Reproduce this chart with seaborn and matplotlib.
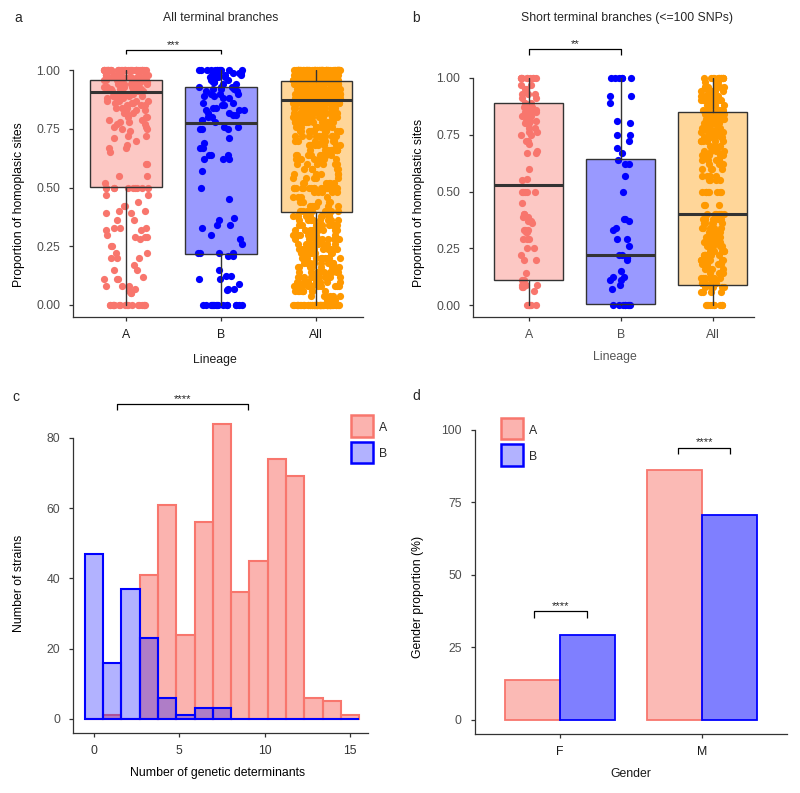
import numpy as np
import pandas as pd
import matplotlib
matplotlib.use("Agg")
import matplotlib.pyplot as plt
import seaborn as sns
from matplotlib.colors import to_rgba
from matplotlib.patches import Rectangle

# ------------------------------------------------------------------ data
lineages = ["A", "B", "All"]
col_A, col_B, col_All = "#F8766D", "#0000FF", "#FF9900"

# panel a : all terminal branches (proportion value, number of branches)
a_A_vals = [1.00, 0.98, 0.97, 0.96, 0.95, 0.94, 0.93, 0.92, 0.91, 0.90, 0.89, 0.88, 0.87, 0.86,
            0.85, 0.84, 0.83, 0.82, 0.80, 0.79, 0.78, 0.77, 0.76, 0.75, 0.74, 0.72, 0.71, 0.70,
            0.68, 0.67, 0.65, 0.60, 0.55, 0.52, 0.50, 0.47, 0.44, 0.42, 0.40, 0.39, 0.36, 0.33,
            0.32, 0.30, 0.29, 0.28, 0.25, 0.22, 0.20, 0.17, 0.15, 0.12, 0.11, 0.08, 0.07, 0.06,
            0.05, 0.00]
a_A_cnts = [35, 10, 10, 8, 8, 6, 6, 6, 5, 5, 4, 4, 4, 4, 3, 3, 3, 3, 3, 2, 2, 2, 2, 2, 1, 2, 1, 1,
            1, 2, 1, 2, 2, 1, 10, 2, 1, 2, 2, 2, 2, 3, 2, 1, 3, 1, 2, 2, 3, 1, 2, 1, 3, 3, 1, 1,
            2, 18]
a_B_vals = [1.00, 0.99, 0.98, 0.97, 0.96, 0.95, 0.94, 0.93, 0.92, 0.91, 0.90, 0.89, 0.88, 0.86,
            0.85, 0.84, 0.83, 0.82, 0.81, 0.80, 0.79, 0.78, 0.76, 0.75, 0.71, 0.69, 0.67, 0.64,
            0.62, 0.57, 0.50, 0.45, 0.37, 0.36, 0.34, 0.33, 0.30, 0.28, 0.26, 0.22, 0.21, 0.15,
            0.125, 0.11, 0.09, 0.07, 0.065, 0.00]
a_B_cnts = [12, 3, 4, 3, 3, 3, 2, 3, 3, 2, 3, 2, 2, 2, 2, 2, 3, 2, 2, 2, 1, 1, 2, 3, 1, 1, 2, 3,
            3, 1, 1, 1, 1, 1, 2, 1, 1, 1, 1, 4, 2, 1, 2, 2, 1, 2, 1, 16]
a_All_vals = [1.00, 0.98, 0.96, 0.94, 0.92, 0.90, 0.88, 0.86, 0.84, 0.82, 0.80, 0.78, 0.76, 0.74,
              0.72, 0.70, 0.68, 0.66, 0.64, 0.62, 0.60, 0.58, 0.56, 0.54, 0.52, 0.50, 0.48, 0.46,
              0.44, 0.42, 0.40, 0.38, 0.36, 0.34, 0.32, 0.30, 0.28, 0.26, 0.24, 0.22, 0.20, 0.18,
              0.16, 0.14, 0.12, 0.10, 0.08, 0.06, 0.04, 0.02, 0.00]
a_All_cnts = [60, 40, 40, 35, 30, 28, 25, 22, 18, 16, 15, 14, 12, 10, 10, 9, 8, 10, 8, 7, 6, 5,
              5, 5, 6, 20, 5, 4, 5, 6, 8, 10, 9, 10, 10, 9, 11, 9, 10, 11, 12, 8, 9, 10, 11, 12,
              10, 9, 6, 4, 50]
a_q1 = [0.504, 0.216, 0.395]
a_med = [0.908, 0.774, 0.873]
a_q3 = [0.959, 0.930, 0.954]
a_lo = [0.0, 0.0, 0.0]
a_hi = [1.0, 1.0, 1.0]

# panel b : short terminal branches (<=100 SNPs)
b_A_vals = [1.00, 0.97, 0.95, 0.93, 0.91, 0.89, 0.87, 0.86, 0.85, 0.83, 0.81, 0.80, 0.78, 0.76,
            0.75, 0.72, 0.71, 0.68, 0.67, 0.60, 0.555, 0.55, 0.50, 0.45, 0.40, 0.39, 0.37, 0.36,
            0.33, 0.32, 0.29, 0.25, 0.22, 0.20, 0.14, 0.11, 0.09, 0.08, 0.065, 0.00]
b_A_cnts = [10, 2, 2, 3, 2, 2, 3, 3, 3, 3, 3, 3, 2, 2, 2, 2, 1, 1, 2, 1, 1, 1, 5, 1, 2, 2, 2, 1,
            3, 2, 3, 2, 1, 2, 1, 2, 3, 2, 1, 7]
b_B_vals = [1.00, 0.92, 0.89, 0.81, 0.80, 0.75, 0.72, 0.69, 0.67, 0.64, 0.62, 0.57, 0.50, 0.38,
            0.37, 0.34, 0.33, 0.29, 0.26, 0.22, 0.21, 0.20, 0.15, 0.125, 0.11, 0.09, 0.07, 0.00]
b_B_cnts = [6, 2, 1, 1, 1, 2, 1, 1, 1, 1, 2, 1, 1, 2, 1, 1, 1, 2, 1, 2, 2, 1, 1, 2, 2, 1, 1, 8]
b_All_vals = [1.00, 0.98, 0.96, 0.94, 0.92, 0.90, 0.88, 0.86, 0.84, 0.82, 0.80, 0.78, 0.76, 0.74,
              0.72, 0.70, 0.68, 0.66, 0.64, 0.62, 0.60, 0.57, 0.55, 0.50, 0.44, 0.40, 0.38, 0.36,
              0.34, 0.32, 0.30, 0.28, 0.26, 0.24, 0.22, 0.20, 0.18, 0.16, 0.14, 0.12, 0.10, 0.08,
              0.06, 0.00]
b_All_cnts = [12, 3, 6, 6, 8, 8, 8, 8, 10, 10, 10, 8, 8, 6, 6, 4, 5, 6, 5, 4, 4, 4, 4, 8, 3, 6,
              6, 5, 5, 6, 5, 6, 5, 5, 8, 8, 5, 4, 5, 6, 6, 5, 4, 10]
b_q1 = [0.113, 0.004, 0.091]
b_med = [0.528, 0.220, 0.399]
b_q3 = [0.887, 0.645, 0.850]
b_lo = [0.0, 0.0, 0.0]
b_hi = [1.0, 1.0, 1.0]

# panel c : number of genetic determinants per strain
c_A_det = [1, 3, 4, 5, 6, 7, 9, 10, 11, 12, 13, 14, 15]
c_A_n = [1, 41, 61, 24, 56, 84, 36, 45, 74, 69, 6, 5, 1]
c_B_det = [0, 1, 2, 3, 4, 5, 6, 7]
c_B_n = [47, 16, 37, 23, 6, 1, 3, 3]

# panel d : gender proportion (%)
genders = ["F", "M"]
d_A_prop = [13.8, 86.2]
d_B_prop = [29.2, 70.8]

# ------------------------------------------------------------------ style
sns.set_style("ticks")
plt.rcParams["font.family"] = ["Liberation Sans", "DejaVu Sans"]
FS = 8.8
W, H = 800, 793
fig = plt.figure(figsize=(W / 100, H / 100), dpi=100)


def add_ax(l, t, r, b):
    return fig.add_axes([l / W, 1 - b / H, (r - l) / W, (b - t) / H])


def style(ax, xcol, ycol):
    for s in ["top", "right"]:
        ax.spines[s].set_visible(False)
    for s in ["left", "bottom"]:
        ax.spines[s].set_color("#333333")
        ax.spines[s].set_linewidth(0.9)
    ax.tick_params(axis="both", length=3, width=0.9, color="#333333", labelsize=FS)
    ax.tick_params(axis="x", labelcolor=xcol, pad=5.5)
    ax.tick_params(axis="y", labelcolor=ycol, pad=6.5)


def ftext(x, y, s, **kw):
    fig.text(x / W, 1 - y / H, s, **kw)


def bracket(ax, x0, x1, ytop, ybot, label):
    ax.plot([x0, x0, x1, x1], [ybot, ytop, ytop, ybot], color="black", lw=0.9,
            clip_on=False, solid_capstyle="butt")
    ax.annotate(label, ((x0 + x1) / 2, ytop), xytext=(0, 1.6), textcoords="offset points",
                ha="center", va="baseline", fontsize=8.2, annotation_clip=False)


def legend_key(x0, y0, labels, faces, edges):
    # manual legend: 22 px square keys, 26.5 px pitch (pixel coords)
    for i, (lab, fc, ec) in enumerate(zip(labels, faces, edges)):
        top = y0 + i * 26.5
        fig.add_artist(Rectangle((x0 / W, 1 - (top + 21.5) / H), 22 / W, 21.5 / H,
                                 transform=fig.transFigure, facecolor=fc, edgecolor=ec,
                                 lw=1.8))
        ftext(x0 + 28, top + 13, lab, fontsize=FS, ha="left", va="center")


def long_df(lab, vals, cnts):
    v = np.repeat(vals, cnts)
    return pd.DataFrame({"lineage": [lab] * len(v), "value": v})


pal = {"A": col_A, "B": col_B, "All": col_All}
np.random.seed(11)


def box_panel(ax, vals_list, cnts_list, jitters, q1, med, q3, lo, hi):
    for lab, vals, cnts, jit in zip(lineages, vals_list, cnts_list, jitters):
        sns.stripplot(data=long_df(lab, vals, cnts), x="lineage", y="value",
                      order=lineages, color=pal[lab], jitter=jit, size=5.2, linewidth=0,
                      ax=ax, zorder=2, clip_on=False)
    stats = [dict(med=m, q1=a, q3=b, whislo=l, whishi=h, label=n)
             for m, a, b, l, h, n in zip(med, q1, q3, lo, hi, lineages)]
    bp = ax.bxp(stats, positions=[0, 1, 2], widths=0.75, patch_artist=True,
                showfliers=False, showcaps=False, manage_ticks=False, zorder=3,
                medianprops=dict(color="#333333", lw=2.2, solid_capstyle="butt"),
                whiskerprops=dict(color="#333333", lw=1.0))
    for patch, c in zip(bp["boxes"], [col_A, col_B, col_All]):
        patch.set_facecolor(to_rgba(c, 0.4))
        patch.set_edgecolor("#333333")
        patch.set_linewidth(1.0)
    ax.set_xticks([0, 1, 2], lineages)
    ax.set_yticks([0, 0.25, 0.5, 0.75, 1.0], ["0.00", "0.25", "0.50", "0.75", "1.00"])
    ax.set_ylim(-0.05, 1.0)


# ------------------------------------------------------------------ panel a
axA = add_ax(73.3, 70.3, 363, 316.7)
box_panel(axA, [a_A_vals, a_B_vals, a_All_vals], [a_A_cnts, a_B_cnts, a_All_cnts],
          [0.24, 0.24, 0.25], a_q1, a_med, a_q3, a_lo, a_hi)
axA.set_xlim(-0.553, 2.49)
style(axA, "#1A1A1A", "#4D4D4D")
axA.set_xlabel("Lineage", fontsize=FS, color="#1A1A1A")
axA.set_ylabel("Proportion of homoplasic sites", fontsize=FS, color="black")
axA.xaxis.set_label_coords(0.489, -0.176)
axA.yaxis.set_label_coords(-0.186, 0.453)
axA.xaxis.label.set_va("center")
axA.yaxis.label.set_va("center")
bracket(axA, 0, 1, 1.087, 1.068, "***")

# ------------------------------------------------------------------ panel b
axB = add_ax(473.3, 77.7, 754, 316.7)
box_panel(axB, [b_A_vals, b_B_vals, b_All_vals], [b_A_cnts, b_B_cnts, b_All_cnts],
          [0.09, 0.12, 0.13], b_q1, b_med, b_q3, b_lo, b_hi)
axB.set_xlim(-0.605, 2.45)
style(axB, "#4D4D4D", "#4D4D4D")
axB.set_xlabel("Lineage", fontsize=FS, color="#555555")
axB.set_ylabel("Proportion of homoplastic sites", fontsize=FS, color="black")
axB.xaxis.set_label_coords(0.505, -0.169)
axB.yaxis.set_label_coords(-0.193, 0.478)
axB.xaxis.label.set_va("center")
axB.yaxis.label.set_va("center")
bracket(axB, 0, 1, 1.125, 1.10, "**")

# ------------------------------------------------------------------ panel c
axC = add_ax(73.3, 437.7, 368.3, 733.3)
edges = list(np.linspace(-15 / 28, 15 + 15 / 28, 16))
sns.histplot(x=c_A_det, weights=c_A_n, bins=edges, ax=axC,
             facecolor=to_rgba(col_A, 0.55), edgecolor=col_A, linewidth=1.5, clip_on=False)
sns.histplot(x=c_B_det, weights=c_B_n, bins=edges, ax=axC,
             facecolor=to_rgba(col_B, 0.3), edgecolor=col_B, linewidth=1.5, clip_on=False)
axC.set_xlim(-1.21, 16.07)
axC.set_ylim(-4.07, 80)
axC.set_xticks([0, 5, 10, 15])
axC.set_yticks([0, 20, 40, 60, 80])
style(axC, "#333333", "#4D4D4D")
axC.set_xlabel("Number of genetic determinants", fontsize=FS, color="black")
axC.set_ylabel("Number of strains", fontsize=FS, color="black")
axC.xaxis.set_label_coords(0.49, -0.134)
axC.yaxis.set_label_coords(-0.184, 0.508)
axC.xaxis.label.set_va("center")
axC.yaxis.label.set_va("center")
bracket(axC, 1.33, 9.04, 89.6, 88.0, "****")
key_faces = [to_rgba(col_A, 0.55), to_rgba(col_B, 0.3)]
legend_key(350.7, 415, ["A", "B"], key_faces, [col_A, col_B])

# ------------------------------------------------------------------ panel d
axD = add_ax(475, 430, 786.7, 734)
dfd = pd.DataFrame({"gender": genders * 2, "lineage": ["A"] * 2 + ["B"] * 2,
                    "prop": d_A_prop + d_B_prop})
sns.barplot(data=dfd, x="gender", y="prop", hue="lineage", order=genders,
            hue_order=["A", "B"], palette={"A": col_A, "B": col_B}, width=0.775,
            errorbar=None, saturation=1, ax=axD, legend=False)
for cont, c in zip(axD.containers, [col_A, col_B]):
    for bar in cont:
        bar.set_facecolor(to_rgba(c, 0.5))
        bar.set_edgecolor(c)
        bar.set_linewidth(1.3)
axD.set_xlim(-0.6, 1.597)
axD.set_ylim(-4.83, 100)
axD.set_yticks([0, 25, 50, 75, 100])
style(axD, "#1A1A1A", "#4D4D4D")
axD.set_xlabel("Gender", fontsize=FS, color="#1A1A1A")
axD.set_ylabel("Gender proportion (%)", fontsize=FS, color="black")
axD.xaxis.set_label_coords(0.5, -0.1316)
axD.yaxis.set_label_coords(-0.183, 0.45)
axD.xaxis.label.set_va("center")
axD.yaxis.label.set_va("center")
bracket(axD, -0.183, 0.188, 37.6, 35.0, "****")
bracket(axD, 0.833, 1.2, 93.9, 91.7, "****")
legend_key(500.7, 417.7, ["A", "B"], key_faces, [col_A, col_B])

# ------------------------------------------------------------------ titles / letters
ftext(18, 18, "a", fontsize=10, ha="center", va="center")
ftext(416, 18, "b", fontsize=10, ha="center", va="center")
ftext(16, 397, "c", fontsize=10, ha="center", va="center")
ftext(416, 396, "d", fontsize=10, ha="center", va="center")
ftext(220.7, 18, "All terminal branches", fontsize=FS, ha="center", va="center")
ftext(626.7, 18, "Short terminal branches (<=100 SNPs)", fontsize=FS, ha="center",
      va="center")

fig.savefig("out.png", dpi=100)
